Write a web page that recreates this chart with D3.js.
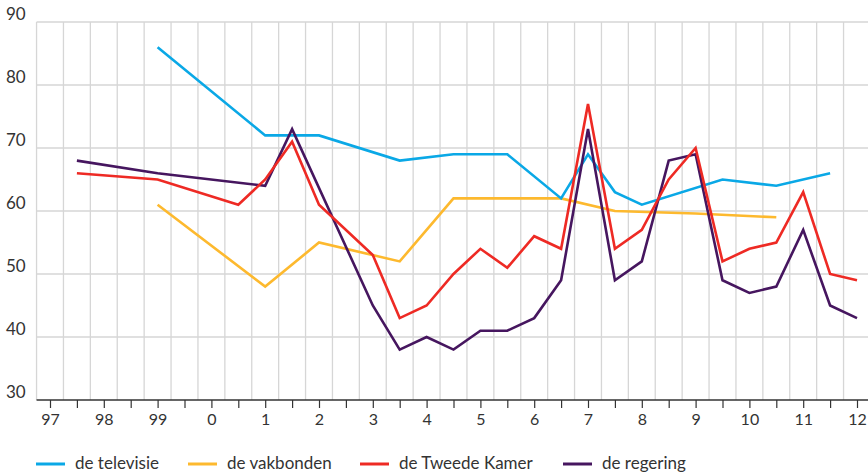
<!DOCTYPE html>
<html>
<head>
<meta charset="utf-8">
<script src="https://cdn.jsdelivr.net/npm/d3@7"></script>
<style>
  html, body { margin: 0; padding: 0; background: #fff; }
  svg { display: block; font-family: Lato, "Open Sans", sans-serif; }
</style>
</head>
<body>
<svg id="chart" width="868" height="474"></svg>
<script>
// ---- data ----
const seriesNames = ["de televisie", "de vakbonden", "de Tweede Kamer", "de regering"];
const seriesColors = ["#0aa8e6", "#fdb92e", "#ee2a24", "#46165f"];

const televisieYears  = [1999, 2001, 2001.5, 2002, 2003.5, 2004.5, 2005.5, 2006.5, 2007, 2007.5, 2008, 2009.5, 2010.5, 2011.5];
const televisieValues = [86,   72,   72,     72,   68,     69,     69,     62,     69,   63,     61,   65,     64,     66];

const vakbondenYears  = [1999, 2001, 2002, 2003.5, 2004.5, 2006.5, 2007.5, 2009, 2010.5];
const vakbondenValues = [61,   48,   55,   52,     62,     62,     60,     59.6, 59];

const kamerYears  = [1997.5, 1999, 2000.5, 2001, 2001.5, 2002, 2003, 2003.5, 2004, 2004.5, 2005, 2005.5, 2006, 2006.5, 2007, 2007.5, 2008, 2008.5, 2009, 2009.5, 2010, 2010.5, 2011, 2011.5, 2012];
const kamerValues = [66,     65,   61,     65,   71,     61,   53,   43,     45,   50,     54,   51,     56,   54,     77,   54,     57,   65,     70,   52,     54,   55,     63,   50,     49];

const regeringYears  = [1997.5, 1999, 2001, 2001.5, 2003, 2003.5, 2004, 2004.5, 2005, 2005.5, 2006, 2006.5, 2007, 2007.5, 2008, 2008.5, 2009, 2009.5, 2010, 2010.5, 2011, 2011.5, 2012];
const regeringValues = [68,     66,   64,   73,     45,   38,     40,   38,     41,   41,     43,   49,     73,   49,     52,   68,     69,   49,     47,   48,     57,   45,     43];

const yTicks = [30, 40, 50, 60, 70, 80, 90];
const xTickYears = d3.range(1997, 2013);
const xTickLabels = ["97","98","99","0","1","2","3","4","5","6","7","8","9","10","11","12"];

// ---- layout ----
const svg = d3.select("#chart");
const x = d3.scaleLinear().domain([1997, 2012]).range([50, 857]);
const y = d3.scaleLinear().domain([30, 90]).range([400, 22]);
const plotLeft = x(1996.75), plotRight = 868;

// grid
const g = svg.append("g");
const vGrid = d3.range(1996.75, 2012.5, 0.5);
g.selectAll("line.v").data(vGrid).join("line")
  .attr("x1", d => x(d)).attr("x2", d => x(d))
  .attr("y1", y(90)).attr("y2", y(30))
  .attr("stroke", "#d6d6d6").attr("stroke-width", 1.3);
g.selectAll("line.h").data(yTicks.filter(d => d > 30)).join("line")
  .attr("x1", plotLeft).attr("x2", plotRight)
  .attr("y1", d => y(d)).attr("y2", d => y(d))
  .attr("stroke", "#d6d6d6").attr("stroke-width", 1.3);

// y labels
svg.append("g").selectAll("text").data(yTicks).join("text")
  .attr("x", 6).attr("y", d => y(d) - 2)
  .attr("font-size", 17).attr("fill", "#333")
  .text(d => d);

// x axis
const xAxis = d3.axisBottom(x)
  .tickValues(d3.range(1997, 2012.6, 0.5))
  .tickSize(8)
  .tickFormat(d => Number.isInteger(d) ? xTickLabels[xTickYears.indexOf(d)] : "");
const ax = svg.append("g").attr("transform", `translate(0,${y(30)})`).call(xAxis);
ax.select(".domain").attr("d", `M${plotLeft},0H${plotRight}`).attr("stroke", "#333").attr("stroke-width", 1.5);
ax.selectAll(".tick line").attr("stroke", "#333").attr("stroke-width", 1.2);
ax.selectAll(".tick text").attr("font-size", 16).attr("fill", "#333").attr("dy", "0.9em")
  .attr("font-family", "Lato, 'Open Sans', sans-serif");

// lines
const allYears = [televisieYears, vakbondenYears, kamerYears, regeringYears];
const allValues = [televisieValues, vakbondenValues, kamerValues, regeringValues];
const line = d3.line().x(d => x(d[0])).y(d => y(d[1]));
const drawOrder = [1, 0, 3, 2];
drawOrder.forEach(i => {
  const pts = allYears[i].map((yr, k) => [yr, allValues[i][k]]);
  svg.append("path").datum(pts)
    .attr("d", line)
    .attr("fill", "none")
    .attr("stroke", seriesColors[i])
    .attr("stroke-width", 2.6)
    .attr("stroke-linejoin", "miter");
});

// legend
const legendX = [36, 188, 360, 563];
const lg = svg.append("g");
seriesNames.forEach((name, i) => {
  lg.append("line")
    .attr("x1", legendX[i]).attr("x2", legendX[i] + 29)
    .attr("y1", 464).attr("y2", 464)
    .attr("stroke", seriesColors[i]).attr("stroke-width", 3);
  lg.append("text")
    .attr("x", legendX[i] + 39).attr("y", 469)
    .attr("font-size", 17).attr("fill", "#333")
    .text(name);
});
</script>
</body>
</html>
